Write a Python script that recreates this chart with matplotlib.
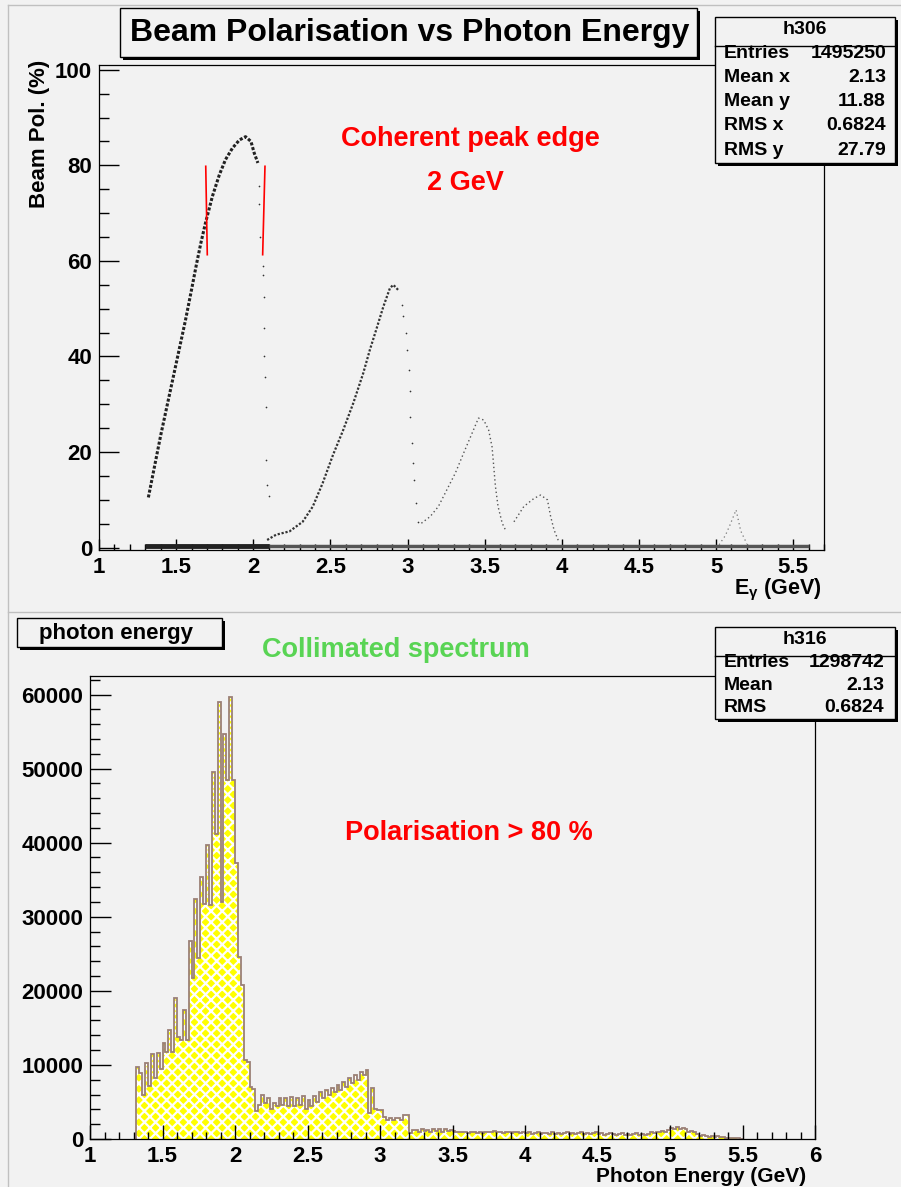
import numpy as np
import matplotlib
matplotlib.use('Agg')
import matplotlib.pyplot as plt
from matplotlib.patches import Rectangle
from matplotlib.lines import Line2D
from matplotlib.ticker import MultipleLocator

W, H = 901, 1187
bg = '#f2f2f2'

#%% data

# upper pad: beam polarisation vs photon energy (dots along the curves)
pk1_E = [1.32, 1.36, 1.40, 1.44, 1.48, 1.52, 1.56, 1.60, 1.63, 1.66, 1.69, 1.735,
         1.78, 1.82, 1.865, 1.91, 1.95, 1.985, 2.006, 2.03]
pk1_P = [10.5, 17, 23.5, 29.5, 35.5, 41.5, 47.5, 54, 59, 63.7, 67.9, 73.5,
         78, 81.2, 83.6, 85.3, 86.0, 85.0, 82.6, 80.5]
edge1_E = [2.035, 2.04, 2.043, 2.06, 2.065, 2.07, 2.07, 2.072, 2.075, 2.08, 2.085, 2.09, 2.10]
edge1_P = [75.6, 72, 65, 59, 57, 52.5, 46, 40, 35.8, 29.5, 18.4, 13, 10.7]
pk2_E = [2.09, 2.148, 2.235, 2.32, 2.386, 2.45, 2.517, 2.583, 2.648, 2.713, 2.756,
         2.80, 2.843, 2.886, 2.908, 2.94]
pk2_P = [1.6, 2.7, 3.4, 5.4, 8.6, 13.5, 19.4, 24.6, 30.2, 36.5, 41.4,
         45.9, 50.4, 54.3, 55.0, 53.9]
edge2_E = [2.962, 2.973, 2.988, 2.995, 3.01, 3.016, 3.016, 3.031, 3.038, 3.042, 3.053, 3.07]
edge2_P = [50.8, 48.4, 44.9, 41.4, 37.2, 32.7, 27.4, 21.9, 17.7, 14.2, 9.3, 5.4]
pk3_E = [3.09, 3.147, 3.20, 3.255, 3.31, 3.364, 3.418, 3.46, 3.494, 3.526, 3.548,
         3.559, 3.57, 3.587, 3.614, 3.635]
pk3_P = [5.1, 6.5, 8.6, 12.1, 15.6, 19.8, 23.9, 27.1, 26.7, 24.6, 21.1,
         17.0, 12.8, 8.6, 5.1, 3.7]
pk4_E = [3.69, 3.754, 3.82, 3.863, 3.907, 3.928, 3.95, 3.98]
pk4_P = [5.4, 8.6, 10.3, 11.0, 10.0, 6.5, 3.7, 1.3]
pk5_E = [5.02, 5.06, 5.09, 5.13, 5.16, 5.20]
pk5_P = [0.6, 2.5, 4.7, 7.9, 3.5, 0.8]
band_E = [1.30, 2.10, 5.60]
band_P = [0.3, 0.3, 0.3]
# red markers of the coherent edge
cut_E = [[1.692, 1.702], [2.076, 2.061]]
cut_P = [79.8, 61.3]

# lower pad: collimated photon energy spectrum, 0.02 GeV bins from 1.32 GeV
bin_lo = 1.32
bin_w = 0.02
counts = [9750, 8900, 6000, 10300, 7200, 11500, 8300, 11600, 9500, 13000,
          11800, 14700, 11800, 19000, 13800, 13400, 17400, 13300, 26700, 21800,
          32400, 24400, 35400, 31700, 39700, 31600, 49600, 41200, 59000, 32000,
          54700, 48400, 59600, 48400, 37300, 24600, 20800, 10700, 10400, 7000,
          6800, 3800,
          4600, 5900, 4800, 5500, 4100, 4800, 4400, 5500, 4600, 5500,
          4400, 5700, 4400, 5600, 4600, 5800, 4100,
          5300, 4400, 5800, 5000, 6300, 5600, 6600, 5900, 6900, 6300,
          7300, 6600, 7700, 7000, 8200, 7600, 8600, 8000, 9100, 8700, 9300,
          3500, 6900, 4000, 3900, 3900, 3000, 2600, 2800, 2600, 2800,
          2900, 2600, 3200, 3300,
          800, 1200, 1200, 900, 1300, 1100, 1200, 1000, 1300, 1100,
          1300, 1000, 1400, 1100, 1200,
          1100, 900, 1000, 900, 1000, 800, 900, 1000, 800, 900,
          800, 1000, 1000, 900, 1100, 900, 1000, 800, 900, 900,
          800, 900, 1000, 800, 900,
          800, 900, 700, 800, 900, 700, 800, 800, 700, 900,
          700, 800, 700, 800, 900, 700, 800, 700, 800, 900,
          700, 800, 700, 800, 900,
          700, 800, 600, 700, 800, 700, 600, 700, 800, 600,
          700, 600, 700, 800, 600, 700, 600, 700, 900, 800,
          1000, 900, 1100, 1000, 1200,
          1500, 1300, 1600, 1400, 1500, 1300, 1000, 1100, 900, 700,
          400, 500, 400, 300, 400, 300, 400, 300, 300, 200,
          200, 100, 100, 100, 0]

stats1 = [('Entries', '1495250'), ('Mean x', '2.13'), ('Mean y', '11.88'),
          ('RMS x', '0.6824'), ('RMS y', '27.79')]
stats2 = [('Entries', '1298742'), ('Mean', '2.13'), ('RMS', '0.6824')]

#%% style

plt.rcParams['font.family'] = ['Liberation Sans', 'DejaVu Sans']
plt.rcParams['font.weight'] = 'bold'
plt.rcParams['mathtext.fontset'] = 'custom'
plt.rcParams['mathtext.rm'] = 'Liberation Sans:bold'
plt.rcParams['mathtext.it'] = 'Liberation Sans:bold'
plt.rcParams['hatch.linewidth'] = 1.6


def fx(px):
    return px / W


def fy(py):
    return 1 - py / H


def box(x0, y0, x1, y1, sh=3):
    fig.add_artist(Rectangle((fx(x0 + sh), fy(y1 + sh)), fx(x1 - x0), fy(y0) - fy(y1),
                             transform=fig.transFigure, facecolor='black', edgecolor='none', zorder=5))
    fig.add_artist(Rectangle((fx(x0), fy(y1)), fx(x1 - x0), fy(y0) - fy(y1),
                             transform=fig.transFigure, facecolor=bg, edgecolor='black', lw=1, zorder=6))


def hline(x0, x1, y, color='black', lw=1, z=7):
    fig.add_artist(Line2D([fx(x0), fx(x1)], [fy(y), fy(y)], transform=fig.transFigure,
                          color=color, lw=lw, zorder=z))


def style_axes(ax, ylen, xlen):
    ax.set_facecolor(bg)
    for s in ax.spines.values():
        s.set_linewidth(0.9)
    ax.tick_params(which='both', direction='in', top=False, right=False, width=1.0,
                   labelsize=16, pad=5)
    ax.tick_params(axis='y', which='major', length=ylen)
    ax.tick_params(axis='y', which='minor', length=ylen / 2)
    ax.tick_params(axis='x', which='major', length=xlen)
    ax.tick_params(axis='x', which='minor', length=xlen / 2)
    for lab in ax.get_xticklabels() + ax.get_yticklabels():
        lab.set_fontweight('bold')


fig = plt.figure(figsize=(W / 100, H / 100), dpi=100, facecolor=bg)

# pad borders
hline(8, 901, 5, color='#c0c0c0', z=0)
hline(8, 901, 612, color='#c0c0c0', z=0)
fig.add_artist(Line2D([fx(8), fx(8)], [fy(5), fy(1187)], transform=fig.transFigure,
                      color='#c0c0c0', lw=1, zorder=0))

#%% upper pad
ax1 = fig.add_axes([fx(99), fy(550), fx(824) - fx(99), fy(65) - fy(550)])
ax1.plot(band_E[:2], band_P[:2], color='#222222', lw=3.5, solid_capstyle='butt')
ax1.plot(band_E[1:], band_P[1:], color='#555555', lw=2.5, solid_capstyle='butt')
ax1.plot(pk1_E, pk1_P, color='#222222', lw=2.2, ls=(0, (1, 0.6)))
ax1.scatter(edge1_E, edge1_P, s=1.5, color='#333333', lw=0)
ax1.plot(pk2_E, pk2_P, color='#333333', lw=1.6, ls=(0, (1, 0.8)))
ax1.scatter(edge2_E, edge2_P, s=1.5, color='#333333', lw=0)
ax1.plot(pk3_E, pk3_P, color='#555555', lw=1.0, ls=(0, (1, 2)))
ax1.plot(pk4_E, pk4_P, color='#555555', lw=1.0, ls=(0, (1, 2)))
ax1.plot(pk5_E, pk5_P, color='#777777', lw=0.9, ls=(0, (1, 2.5)))
for ce in cut_E:
    ax1.plot(ce, cut_P, color='red', lw=1.2)
ax1.set_xlim(1, 5.7)
ax1.set_ylim(-0.5, 101)
ax1.xaxis.set_major_locator(MultipleLocator(0.5))
ax1.xaxis.set_minor_locator(MultipleLocator(0.1))
ax1.yaxis.set_major_locator(MultipleLocator(20))
ax1.yaxis.set_minor_locator(MultipleLocator(5))
ax1.set_xticks([1, 1.5, 2, 2.5, 3, 3.5, 4, 4.5, 5, 5.5])
ax1.set_xticklabels(['1', '1.5', '2', '2.5', '3', '3.5', '4', '4.5', '5', '5.5'])
style_axes(ax1, 14.4, 8)

fig.text(fx(822), fy(590), r'E$_{\gamma}$ (GeV)', ha='right', va='center', fontsize=15.5, fontweight='bold')
fig.text(fx(40), fy(60), 'Beam Pol. (%)', rotation=90, ha='center', va='top', fontsize=16, fontweight='bold')
fig.text(fx(470), fy(139), 'Coherent peak edge', color='red', ha='center', va='center', fontsize=19.5, fontweight='bold')
fig.text(fx(465), fy(183), '2 GeV', color='red', ha='center', va='center', fontsize=19.5, fontweight='bold')

box(120, 8, 697, 57)
fig.text(fx(410), fy(33), 'Beam Polarisation vs Photon Energy', ha='center', va='center',
         fontsize=23, fontweight='bold', zorder=8)

box(715, 17, 895, 163)
hline(715, 895, 45.7)
fig.text(fx(805), fy(30), 'h306', ha='center', va='center', fontsize=14, fontweight='bold', zorder=8)
for k, (lab, val) in enumerate(stats1):
    yy = 53.3 + k * 24.2
    fig.text(fx(724), fy(yy), lab, ha='left', va='center', fontsize=14, fontweight='bold', zorder=8)
    fig.text(fx(886), fy(yy), val, ha='right', va='center', fontsize=14, fontweight='bold', zorder=8)

#%% lower pad
ax2 = fig.add_axes([fx(90), fy(1139), fx(815) - fx(90), fy(676) - fy(1139)])
edges = [bin_lo + bin_w * i for i in range(len(counts) + 1)]
ax2.stairs(counts, edges, fill=True, facecolor='#ffff00', edgecolor='white', hatch='xxx', lw=0)
ax2.stairs(counts, edges, baseline=0, color='#9b8077', lw=1.3)
ax2.set_xlim(1, 6)
ax2.set_ylim(0, 62500)
ax2.xaxis.set_major_locator(MultipleLocator(0.5))
ax2.xaxis.set_minor_locator(MultipleLocator(0.1))
ax2.yaxis.set_major_locator(MultipleLocator(10000))
ax2.yaxis.set_minor_locator(MultipleLocator(2000))
ax2.set_xticks([1, 1.5, 2, 2.5, 3, 3.5, 4, 4.5, 5, 5.5, 6])
ax2.set_xticklabels(['1', '1.5', '2', '2.5', '3', '3.5', '4', '4.5', '5', '5.5', '6'])
style_axes(ax2, 15, 10)

fig.text(fx(806), fy(1177), 'Photon Energy (GeV)', ha='right', va='center', fontsize=15, fontweight='bold')
fig.text(fx(396), fy(650), 'Collimated spectrum', color='#59d454', ha='center', va='center',
         fontsize=19.5, fontweight='bold')
fig.text(fx(469), fy(833), 'Polarisation > 80 %', color='red', ha='center', va='center',
         fontsize=19.5, fontweight='bold')

box(17, 618, 222, 647)
fig.text(fx(116), fy(633), 'photon energy', ha='center', va='center', fontsize=16, fontweight='bold', zorder=8)

box(715, 627, 895, 719)
hline(715, 895, 656)
fig.text(fx(805), fy(640), 'h316', ha='center', va='center', fontsize=14, fontweight='bold', zorder=8)
for k, (lab, val) in enumerate(stats2):
    yy = 662.7 + k * 22.3
    fig.text(fx(724), fy(yy), lab, ha='left', va='center', fontsize=14, fontweight='bold', zorder=8)
    fig.text(fx(884), fy(yy), val, ha='right', va='center', fontsize=14, fontweight='bold', zorder=8)

fig.savefig('out.png', dpi=100, facecolor=bg)
